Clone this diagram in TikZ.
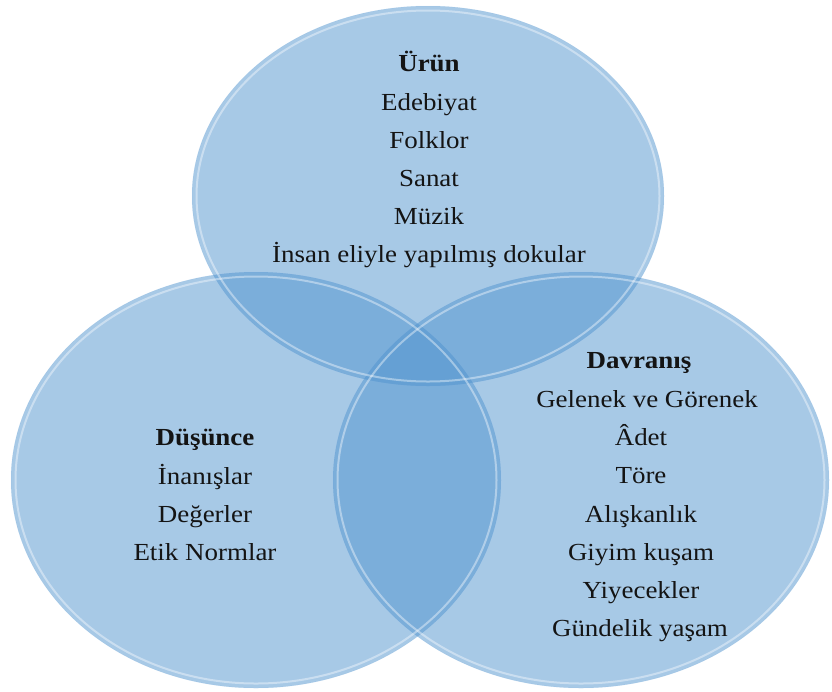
\documentclass[tikz,border=0pt]{standalone}
\usepackage{fontspec}
\setmainfont[FakeStretch=1.1]{Liberation Serif}
\usetikzlibrary{shapes.geometric}
\definecolor{petal}{RGB}{80,147,206}
\definecolor{inktext}{RGB}{20,20,20}
\tikzset{
  setdisc/.style={ellipse, inner sep=0pt, fill=petal, fill opacity=0.5,
    draw=petal, draw opacity=0.15, line width=0.5pt},
  bevel/.style={draw=white, draw opacity=0.4, line width=2pt},
  item/.style={anchor=base, inner sep=0pt, text=inktext,
    font=\fontsize{24.5}{28}\selectfont},
  head/.style={item, font=\fontsize{24.5}{28}\selectfont\bfseries},
}
\begin{document}
\begin{tikzpicture}[x=1pt,y=-1pt]
  \useasboundingbox (0,0) rectangle (832,691);

  % the three overlapping sets
  \node[setdisc, minimum width=472pt, minimum height=380pt] (urun) at (428,196) {};
  \node[setdisc, minimum width=490pt, minimum height=416pt] (dusunce) at (256,480) {};
  \node[setdisc, minimum width=496pt, minimum height=416pt] (davranis) at (581,480) {};

  % light inner rim on each set
  \draw[bevel] (urun.center) ellipse [x radius=231.5pt, y radius=185.5pt];
  \draw[bevel] (dusunce.center) ellipse [x radius=240.5pt, y radius=203.5pt];
  \draw[bevel] (davranis.center) ellipse [x radius=243.5pt, y radius=203.5pt];

  % Ürün
  \node[head] (u0) at (429,71)  {Ürün};
  \node[item] (u1) at (429,110) {Edebiyat};
  \node[item] (u2) at (429,148) {Folklor};
  \node[item] (u3) at (429,186) {Sanat};
  \node[item] (u4) at (429,224) {Müzik};
  \node[item] (u5) at (429,262) {İnsan eliyle yapılmış dokular};

  % Düşünce
  \node[head] (d0) at (205,445) {Düşünce};
  \node[item] (d1) at (205,484) {İnanışlar};
  \node[item] (d2) at (205,522) {Değerler};
  \node[item] (d3) at (205,560) {Etik Normlar};

  % Davranış
  \node[head] (v0) at (639,368) {Davranış};
  \node[item] (v1) at (647,407) {Gelenek ve Görenek};
  \node[item] (v2) at (641,445) {Âdet};
  \node[item] (v3) at (641,483) {Töre};
  \node[item] (v4) at (641,522) {Alışkanlık};
  \node[item] (v5) at (641,560) {Giyim kuşam};
  \node[item] (v6) at (641,598) {Yiyecekler};
  \node[item] (v7) at (640,636) {Gündelik yaşam};
\end{tikzpicture}
\end{document}
